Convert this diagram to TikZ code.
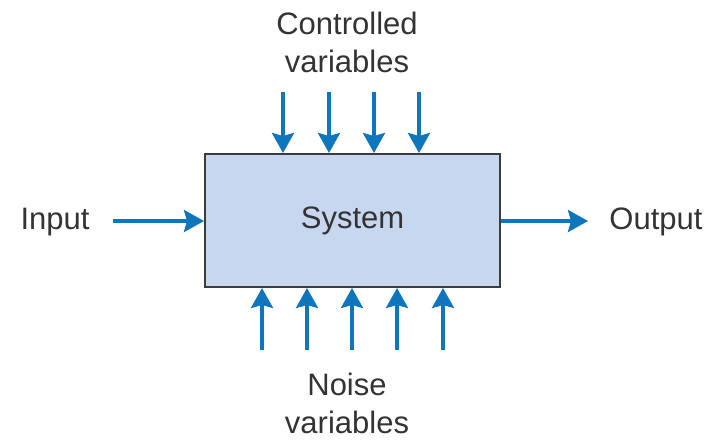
\documentclass[tikz,border=0pt]{standalone}
\usepackage{fontspec}
\setmainfont{Liberation Sans}
\usetikzlibrary{positioning,arrows.meta}
\definecolor{arrowblue}{HTML}{0F75BC}
\definecolor{boxblue}{HTML}{C6D7EF}
\definecolor{boxline}{HTML}{3C3C3C}
\definecolor{textgray}{HTML}{333333}

\begin{document}
\begin{tikzpicture}[x=1pt, y=-1pt, >={Stealth[length=20pt,width=22pt,inset=3pt]}, flow/.style={->, draw=arrowblue, line width=3.5pt}, txt/.style={font=\fontsize{31}{38}\selectfont, text=textgray, align=center, inner sep=0pt}]
	\useasboundingbox (0,0) rectangle (720,439);
	\node [draw=boxline, fill=boxblue, line width=2pt, minimum width=295pt, minimum height=133pt, inner sep=0pt, txt] (SYS) at (352.5,220.5) {System};
	\node [txt] (CTRL) at (347,42) {Controlled\\variables};
	\node [txt] (NOISE) at (347,403) {Noise\\variables};
	\node [txt] (IN) at (55,222) {Input};
	\node [txt] (OUT) at (656,222) {Output};
	\coordinate (INA) at (113,221);
	\coordinate (OUTA) at (588,221);
	\draw [flow] (INA) -- (SYS.west |- INA);
	\draw [flow] (SYS.east |- OUTA) -- (OUTA);
	\foreach \x in {283,329,374,419} {
		\coordinate (C\x) at (\x,92);
		\draw [flow] (C\x) -- (C\x |- SYS.north);
	}
	\foreach \x in {262,307,352,397,443} {
		\coordinate (N\x) at (\x,350);
		\draw [flow] (N\x) -- (N\x |- SYS.south);
	}
\end{tikzpicture}
\end{document}
